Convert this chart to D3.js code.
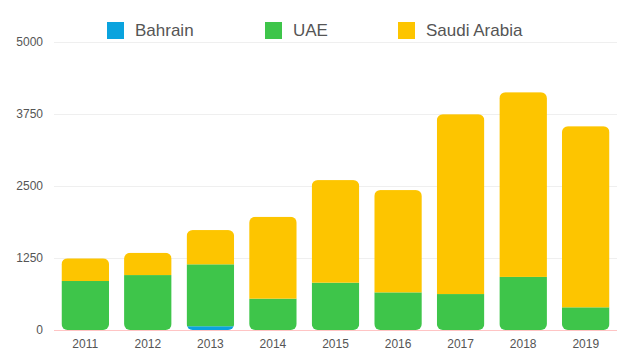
<!DOCTYPE html>
<html><head><meta charset="utf-8">
<script src="https://cdn.jsdelivr.net/npm/d3@7"></script>
<style>
html,body{margin:0;padding:0;background:#fff;}
svg{display:block;font-family:"Liberation Sans",Arial,Helvetica,sans-serif;}
</style></head>
<body>
<svg id="chart" width="640" height="356"></svg>
<script>
const years = ["2011","2012","2013","2014","2015","2016","2017","2018","2019"];
const seriesNames = ["Bahrain","UAE","Saudi Arabia"];
const bahrain = [0, 0, 65, 0, 0, 0, 0, 0, 0];
const uae = [849, 952, 1073, 543, 820, 652, 623, 920, 393];
const saudi = [393, 387, 594, 1420, 1778, 1773, 3118, 3202, 3140];
const yTicks = [0, 1250, 2500, 3750, 5000];
const colors = ["#0aa3de", "#3ec54a", "#fdc500"];

const svg = d3.select("#chart");
const margin = {left: 54, right: 23, top: 42, bottom: 26};
const W = 640, H = 356;
const x = d3.scaleBand().domain(years).range([margin.left, W - margin.right]).paddingInner(0.24).paddingOuter(0.12);
const y = d3.scaleLinear().domain([0, 5000]).range([330, 41.5]);

// grid
svg.append("g").selectAll("line").data(yTicks.filter(d => d > 0)).join("line")
  .attr("x1", margin.left).attr("x2", W - margin.right)
  .attr("y1", d => Math.round(y(d)) + 0.5).attr("y2", d => Math.round(y(d)) + 0.5)
  .attr("stroke", "#efefef").attr("stroke-width", 1);

// y labels
svg.append("g").selectAll("text").data(yTicks).join("text")
  .attr("x", 43).attr("y", d => y(d)).attr("dy", "0.35em")
  .attr("text-anchor", "end").attr("font-size", 12).attr("fill", "#555")
  .text(d => d);

// stacked data
const rows = years.map((yr, i) => ({year: yr, "Bahrain": bahrain[i], "UAE": uae[i], "Saudi Arabia": saudi[i]}));
const stack = d3.stack().keys(seriesNames)(rows);

const defs = svg.append("defs");
rows.forEach((r, i) => {
  const total = r["Bahrain"] + r["UAE"] + r["Saudi Arabia"];
  defs.append("clipPath").attr("id", "clip" + i)
    .append("rect")
    .attr("x", x(r.year)).attr("width", x.bandwidth())
    .attr("y", y(total)).attr("height", y(0) - y(total))
    .attr("rx", 6).attr("ry", 6);
});

const barsG = svg.append("g");
stack.forEach((s, k) => {
  barsG.append("g").attr("fill", colors[k]).selectAll("rect").data(s).join("rect")
    .attr("clip-path", (d, i) => `url(#clip${i})`)
    .attr("x", d => x(d.data.year)).attr("width", x.bandwidth())
    .attr("y", d => y(d[1])).attr("height", d => Math.max(0, y(d[0]) - y(d[1])));
});

// zero line
svg.append("line").attr("x1", margin.left).attr("x2", W - margin.right)
  .attr("y1", 330.5).attr("y2", 330.5).attr("stroke", "#ffc4c4").attr("stroke-width", 1);

// x labels
const xAxis = d3.axisBottom(x).tickSize(0).tickPadding(0);
const gx = svg.append("g").attr("transform", "translate(0,339)").call(xAxis);
gx.select(".domain").remove();
gx.selectAll("text").attr("font-size", 12).attr("fill", "#555")
  .attr("font-family", "'Liberation Sans',Arial,Helvetica,sans-serif").attr("dy", "0.71em");

// legend
const legendX = [107, 265, 398];
const lg = svg.append("g").selectAll("g").data(seriesNames).join("g")
  .attr("transform", (d, i) => `translate(${legendX[i]},22)`);
lg.append("rect").attr("width", 17).attr("height", 17).attr("fill", (d, i) => colors[i]);
lg.append("text").attr("x", 28).attr("y", 14).attr("font-size", 17).attr("fill", "#555").text(d => d);
</script>
</body></html>
